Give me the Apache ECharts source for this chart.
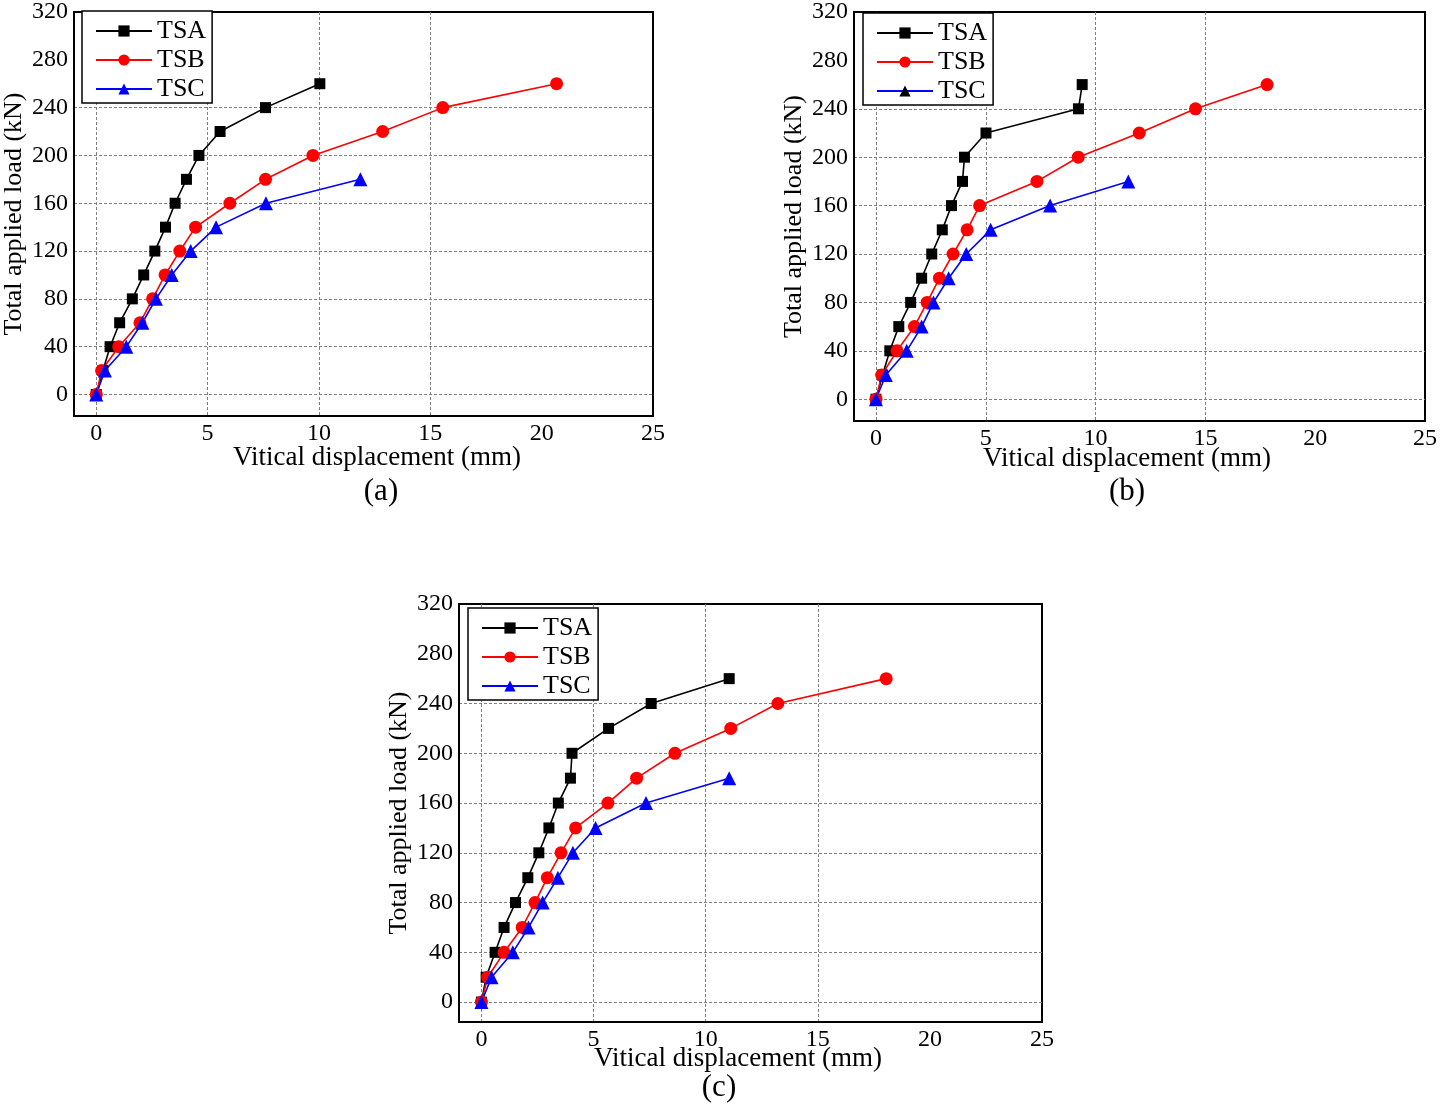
<!DOCTYPE html>
<html><head><meta charset="utf-8">
<script src="https://cdn.jsdelivr.net/npm/echarts@6/dist/echarts.min.js"></script>
<style>html,body{margin:0;padding:0;background:#fff}#c{width:1440px;height:1107px}</style>
</head><body><div id="c"></div>
<script>
// tick labels
const xTicks = [0, 5, 10, 15, 20, 25];
const yTicks = [0, 40, 80, 120, 160, 200, 240, 280, 320];
// load levels (kN)
const loadsAB = [0, 20, 40, 60, 80, 100, 120, 140, 160, 180, 200, 220, 240, 260];
const loadsC = [0, 20, 40, 60, 80, 100, 120, 140, 160, 180];
// displacement (mm), panel (a)
const aTSA = [0, 0.3, 0.62, 1.05, 1.62, 2.13, 2.63, 3.11, 3.54, 4.05, 4.61, 5.56, 7.6, 10.04];
const aTSB = [0, 0.24, 1.01, 1.96, 2.53, 3.09, 3.75, 4.46, 6.0, 7.6, 9.73, 12.86, 15.56, 20.67];
const aTSC = [0, 0.39, 1.35, 2.07, 2.68, 3.39, 4.24, 5.38, 7.62, 11.86];
// panel (b)
const bTSA = [0, 0.3, 0.63, 1.04, 1.58, 2.08, 2.54, 3.02, 3.44, 3.94, 4.03, 5.01, 9.22, 9.39];
const bTSB = [0, 0.26, 0.96, 1.75, 2.33, 2.89, 3.51, 4.15, 4.72, 7.33, 9.21, 11.99, 14.55, 17.81];
const bTSC = [0, 0.45, 1.4, 2.08, 2.62, 3.31, 4.11, 5.22, 7.93, 11.49];
// panel (c)
const cTSA = [0, 0.21, 0.61, 1.01, 1.52, 2.07, 2.56, 3.01, 3.43, 3.97, 4.04, 5.67, 7.57, 11.05];
const cTSB = [0, 0.28, 1.01, 1.82, 2.39, 2.94, 3.55, 4.2, 5.64, 6.92, 8.63, 11.12, 13.22, 18.05];
const cTSC = [0, 0.45, 1.4, 2.1, 2.73, 3.41, 4.08, 5.09, 7.34, 11.05];

const seriesNames = ['TSA', 'TSB', 'TSC'];
const xTitle = 'Vitical displacement (mm)';
const yTitle = 'Total applied load (kN)';
const panelLabels = ['(a)', '(b)', '(c)'];

const FONT = '"Liberation Serif", "Times New Roman", serif';
const pair = (xs, ys) => xs.map((x, i) => [x, ys[i]]);

const grids = [
  {left: 71, top: 9, width: 582, height: 407, ymin: -18},
  {left: 854, top: 9, width: 575, height: 412, ymin: -18},
  {left: 459, top: 604, width: 583, height: 418, ymin: -16}
];
const panelData = [
  [pair(aTSA, loadsAB), pair(aTSB, loadsAB), pair(aTSC, loadsC)],
  [pair(bTSA, loadsAB), pair(bTSB, loadsAB), pair(bTSC, loadsC)],
  [pair(cTSA, loadsAB), pair(cTSB, loadsAB), pair(cTSC, loadsC)]
];
const styles = [
  {color: '#000000', symbol: 'rect', size: 11},
  {color: '#ff0000', symbol: 'circle', size: 13},
  {color: '#0000ff', symbol: 'triangle', size: 14}
];
const legendPos = [{left: 82, top: 11}, {left: 863, top: 13}, {left: 468, top: 608}];
const xTitlePos = [[377, 458], [1127, 459], [738, 1059]];
const panelPos = [[381, 492], [1127, 492], [719, 1088]];

const gridSplit = {show: true, showMaxLine: false, lineStyle: {color: '#808080', type: [3, 2], width: 1}};
const option = {
  backgroundColor: '#fff',
  animation: false,
  grid: grids.map(g => ({left: g.left, top: g.top, width: g.width, height: g.height,
    show: true, borderColor: '#000', borderWidth: 2, backgroundColor: 'transparent'})),
  xAxis: grids.map((g, i) => ({
    type: 'value', gridIndex: i, min: -1, max: 25,
    axisLine: {show: true, onZero: false, lineStyle: {color: '#000', width: 2}},
    axisTick: {show: false, customValues: xTicks.slice(0, -1)},
    axisLabel: {customValues: xTicks, color: '#000', fontFamily: FONT, fontSize: 24, margin: 6},
    splitLine: gridSplit
  })),
  yAxis: grids.map((g, i) => ({
    type: 'value', gridIndex: i, min: g.ymin, max: 320,
    name: yTitle, nameLocation: 'middle', nameGap: 47,
    nameTextStyle: {color: '#000', fontFamily: FONT, fontSize: 26},
    axisLine: {show: true, onZero: false, lineStyle: {color: '#000', width: 2}},
    axisTick: {show: false, customValues: yTicks.slice(0, -1)},
    axisLabel: {customValues: yTicks, color: '#000', fontFamily: FONT, fontSize: 24, margin: 6},
    splitLine: gridSplit
  })),
  legend: legendPos.map((p, i) => ({
    left: p.left, top: p.top, orient: 'vertical',
    data: seriesNames.map((n, k) => (i === 1 && k === 2) ? {name: n, itemStyle: {color: '#000'}} : {name: n}),
    itemWidth: 56, itemHeight: 14, itemGap: 3,
    padding: [7, 6, 1, 13],
    backgroundColor: '#fff', borderColor: '#000', borderWidth: 1.5, borderRadius: 0,
    textStyle: {color: '#000', fontFamily: FONT, fontSize: 26, lineHeight: 26},
    selectedMode: false
  })),
  series: [],
  graphic: []
};
panelData.forEach((sets, gi) => {
  sets.forEach((d, si) => {
    option.series.push({
      type: 'line', name: seriesNames[si], xAxisIndex: gi, yAxisIndex: gi,
      data: d, symbol: styles[si].symbol, symbolSize: styles[si].size,
      lineStyle: {color: styles[si].color, width: 1.6},
      itemStyle: {color: styles[si].color},
      showAllSymbol: true, clip: false, z: 3
    });
  });
  option.graphic.push({type: 'text', x: xTitlePos[gi][0], y: xTitlePos[gi][1],
    style: {text: xTitle, font: '27px ' + FONT, fill: '#000', textAlign: 'center', textVerticalAlign: 'middle'}});
  option.graphic.push({type: 'text', x: panelPos[gi][0], y: panelPos[gi][1],
    style: {text: panelLabels[gi], font: '31px ' + FONT, fill: '#000', textAlign: 'center', textVerticalAlign: 'middle'}});
});
const chart = echarts.init(document.getElementById('c'), null, {renderer: 'canvas'});
chart.setOption(option);
</script></body></html>
